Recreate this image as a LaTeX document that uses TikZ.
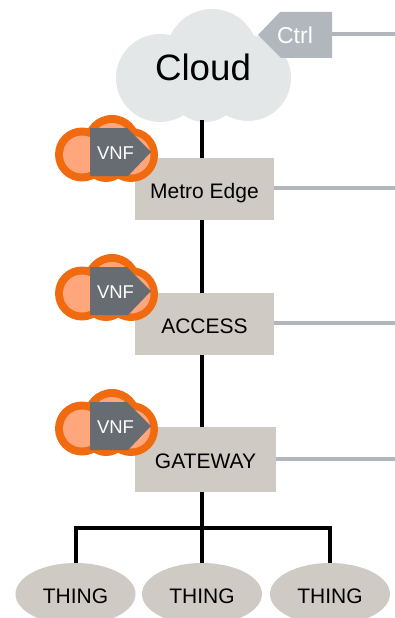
\documentclass[tikz,border=0pt]{standalone}
\usepackage{fontspec}
\setmainfont{Liberation Sans}
\usetikzlibrary{shapes.geometric}

\definecolor{cloudgrey}{HTML}{E4E7E8}
\definecolor{boxgrey}{HTML}{D0CAC5}
\definecolor{ctrlgrey}{HTML}{B1B7BC}
\definecolor{vnfgrey}{HTML}{676C72}
\definecolor{vnforange}{HTML}{F06A0F}
\definecolor{vnfpeach}{HTML}{FFA67C}

\tikzset{
  tier/.style={fill=boxgrey, minimum width=139pt, inner sep=0pt, text height=18.5pt, text depth=0pt, font=\fontsize{21}{24}\selectfont},
  thing/.style={ellipse, fill=boxgrey, minimum width=120pt, minimum height=62pt, inner sep=0pt, text height=18.5pt, text depth=0pt, font=\fontsize{21}{24}\selectfont},
  trunk/.style={line width=4pt, black},
  ctrlline/.style={line width=3.5pt, ctrlgrey},
}

\begin{document}
\begin{tikzpicture}[x=1pt, y=1pt]
  \useasboundingbox (0, 0) rectangle (395, -618);

  % Cloud
  \fill[cloudgrey] (160, -78) circle (44);
  \fill[cloudgrey] (212, -55) circle (46);
  \fill[cloudgrey] (248, -78) circle (43);
  \fill[cloudgrey] (205, -85) circle (37);
  \node[inner sep=0pt, minimum height=106pt, font=\fontsize{36.7}{40}\selectfont] (cloud) at (203, -67) {Cloud};

  % Control tab
  \fill[ctrlgrey] (258, -35) -- (280, -12) -- (332, -12) -- (332, -58) -- (281, -58) -- cycle;
  \node[inner sep=0pt, minimum width=74pt, minimum height=46pt, text height=17pt, text depth=0pt, text=white, font=\fontsize{23}{26}\selectfont] (ctrl) at (295, -35) {Ctrl};

  % Tiers
  \node[tier, minimum height=62pt] (metro) at (204.5, -189) {Metro Edge};
  \node[tier, minimum height=62pt] (access) at (204.5, -324) {ACCESS};
  \node[tier, minimum width=141pt, minimum height=64.5pt] (gateway) at (205.5, -459.5) {GATEWAY};

  % Things
  \node[thing] (t1) at (75.5, -594) {THING};
  \node[thing] (t2) at (202, -594) {THING};
  \node[thing] (t3) at (330, -594) {THING};

  \coordinate (ctrlend) at (395, -34);
  \coordinate (metroend) at (395, -188);
  \coordinate (accessend) at (395, -323);
  \coordinate (gatewayend) at (395, -459);
  \coordinate (bus) at (202, -528);

  % Control lines
  \draw[ctrlline] (ctrlend -| ctrl.east) -- (ctrlend);
  \draw[ctrlline] (metroend -| metro.east) -- (metroend);
  \draw[ctrlline] (accessend -| access.east) -- (accessend);
  \draw[ctrlline] (gatewayend -| gateway.east) -- (gatewayend);

  % Black trunk
  \draw[trunk] (bus |- cloud.south) -- (bus |- metro.north);
  \draw[trunk] (bus |- metro.south) -- (bus |- access.north);
  \draw[trunk] (bus |- access.south) -- (bus |- gateway.north);
  \draw[trunk] (bus |- gateway.south) -- (t2.north);
  \draw[trunk] (t1.north) -- (t1.north |- bus) -- (t3.north |- bus) -- (t3.north);

  % VNF badges
  \foreach \vy/\vname in {0/metro, -139/access, -274/gateway} {
    \begin{scope}[yshift=\vy pt]
      \fill[vnforange] (82, -154.5) circle (27);
      \fill[vnforange] (112, -143) circle (28);
      \fill[vnforange] (131, -155) circle (27);
      \fill[vnforange] (106, -158) circle (24);
      \fill[vnfpeach] (82, -154.5) circle (19);
      \fill[vnfpeach] (112, -143) circle (20);
      \fill[vnfpeach] (131, -155) circle (19.5);
      \fill[vnfpeach] (106, -158) circle (16);
      \fill[vnfgrey] (90, -128) -- (127, -128) -- (151, -152) -- (128, -176) -- (90, -176) -- cycle;
      \node[text=white, inner sep=0pt, text height=14.5pt, text depth=0pt, font=\fontsize{18.5}{20}\selectfont] (vnf\vname) at (115.5, -152) {VNF};
    \end{scope}
  }
\end{tikzpicture}
\end{document}
